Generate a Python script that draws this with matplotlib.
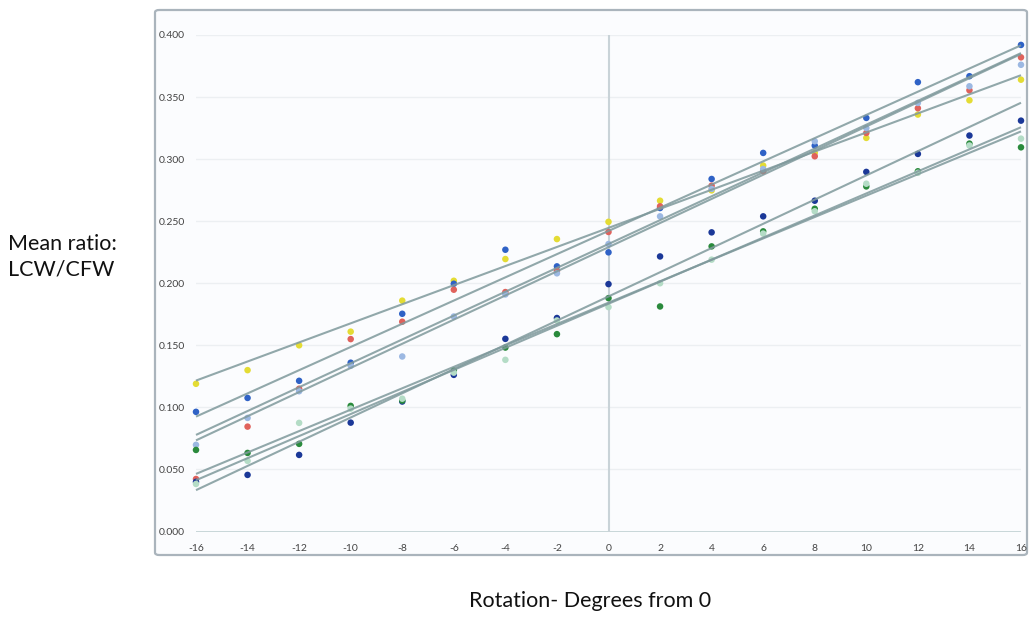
import numpy as np
import matplotlib
matplotlib.use("Agg")
import matplotlib.pyplot as plt
from matplotlib.patches import FancyBboxPatch

plt.rcParams['font.family'] = ['Lato', 'DejaVu Sans']

degrees = [-16, -14, -12, -10, -8, -6, -4, -2, 0, 2, 4, 6, 8, 10, 12, 14, 16]

yellow = [0.119, 0.130, 0.150, 0.161, 0.186, 0.202, 0.2195, 0.2356, 0.2495, 0.2665,
          0.2748, 0.2948, 0.305, 0.3171, 0.3359, 0.3474, 0.364]
blue = [0.0964, 0.1076, 0.1214, 0.136, 0.1754, 0.1996, 0.227, 0.2136, 0.2249, 0.2606,
        0.284, 0.305, 0.3109, 0.3332, 0.362, 0.3668, 0.392]
red = [0.0423, 0.0845, 0.115, 0.155, 0.169, 0.1948, 0.1929, 0.210, 0.2413, 0.262,
       0.2786, 0.2902, 0.3023, 0.3211, 0.341, 0.3555, 0.382]
light_blue = [0.0698, 0.0915, 0.113, 0.1335, 0.141, 0.1732, 0.191, 0.208, 0.2316, 0.2539,
              0.276, 0.292, 0.3144, 0.325, 0.3453, 0.3587, 0.376]
navy = [0.040, 0.0456, 0.0617, 0.0877, 0.1047, 0.1262, 0.1552, 0.172, 0.1993, 0.2216,
        0.241, 0.2539, 0.2665, 0.2897, 0.3042, 0.319, 0.331]
green = [0.0657, 0.0633, 0.0706, 0.1012, 0.1055, 0.1297, 0.1482, 0.159, 0.188, 0.1813,
         0.2297, 0.2418, 0.260, 0.278, 0.2902, 0.3125, 0.3095]
light_green = [0.0383, 0.0569, 0.0875, 0.099, 0.107, 0.128, 0.1383, 0.170, 0.1808, 0.200,
               0.219, 0.240, 0.258, 0.2802, 0.289, 0.311, 0.3165]

series = [
    (yellow, '#e4dc34'),
    (blue, '#2f62c6'),
    (red, '#e0625c'),
    (light_blue, '#9cb8e2'),
    (navy, '#1b3898'),
    (green, '#2a8a3c'),
    (light_green, '#b4dcc6'),
]

y_ticks = [0.0, 0.05, 0.10, 0.15, 0.20, 0.25, 0.30, 0.35, 0.40]

W, H = 1029, 617
fig = plt.figure(figsize=(W / 100, H / 100), dpi=100)
fig.patch.set_facecolor('white')

# chart area frame
frame = FancyBboxPatch((155 / W, 1 - 555 / H), (1027 - 155) / W, (555 - 10) / H,
                       boxstyle="round,pad=0,rounding_size=0.004",
                       transform=fig.transFigure, facecolor='#fbfcfe',
                       edgecolor='#aab4bc', linewidth=1.6, zorder=-5)
fig.patches.append(frame)

ax = fig.add_axes([196 / W, 1 - 531.5 / H, (1021 - 196) / W, (531.5 - 35) / H])
ax.set_zorder(2)
ax.patch.set_visible(False)
ax.set_xlim(-16, 16)
ax.set_ylim(0, 0.4)
for s in ax.spines.values():
    s.set_visible(False)

# gridlines
for yv in y_ticks[1:]:
    ax.axhline(yv, color='#eceff2', lw=1.0, zorder=1)
ax.axhline(0, color='#bfd0d2', lw=1.2, zorder=1)
ax.axvline(0, color='#c9d3d8', lw=1.5, zorder=1)

x = np.array(degrees, dtype=float)
for vals, col in series:
    v = np.array(vals)
    ax.scatter(x, v, s=22, color=col, edgecolors='none', zorder=3, clip_on=False)
for vals, col in series:
    m, b = np.polyfit(x, np.array(vals), 1)
    ax.plot([-16, 16], [m * -16 + b, m * 16 + b], color='#7f999c', lw=1.5,
            alpha=0.85, zorder=4, solid_capstyle='butt', clip_on=False)

ax.set_yticks(y_ticks)
ax.set_yticklabels([f"{t:.3f}" for t in y_ticks])
ax.set_xticks(degrees)
ax.set_xticklabels([str(d) for d in degrees])
ax.tick_params(axis='both', length=0, labelsize=7.5, colors='#444444')
ax.tick_params(axis='y', pad=8)
ax.tick_params(axis='x', pad=9)

fig.text(8 / W, 1 - 257 / H, "Mean ratio:\nLCW/CFW", ha='left', va='center',
         fontsize=15.5, color='#111111', linespacing=1.35)
fig.text(590 / W, 1 - 601 / H, "Rotation- Degrees from 0", ha='center', va='center',
         fontsize=15.5, color='#111111')

fig.savefig('out.png', dpi=100)
